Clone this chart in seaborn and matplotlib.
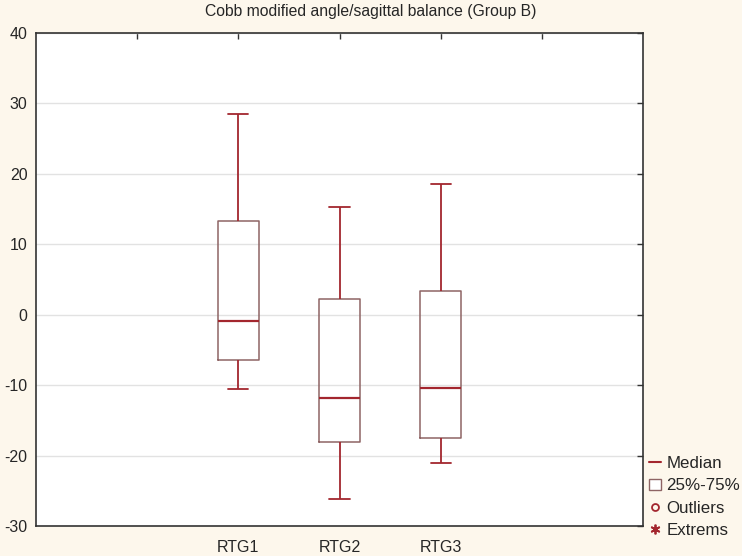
import matplotlib
matplotlib.use('Agg')
import matplotlib.pyplot as plt
from matplotlib.lines import Line2D
from matplotlib.patches import Patch
import seaborn as sns
import pandas as pd

# five-number summaries: min, Q1, median, Q3, max
groups = ['RTG1', 'RTG2', 'RTG3']
positions = [2, 3, 4]
rtg1 = [-10.5, -6.5, -0.9, 13.3, 28.5]
rtg2 = [-26.2, -18.1, -11.8, 2.3, 15.3]
rtg3 = [-21.0, -17.5, -10.4, 3.4, 18.5]
tick_labels = ['', 'RTG1', 'RTG2', 'RTG3', '']

bg = '#FDF7EC'
red = '#A3262E'
box_edge = '#8E6464'

# with 5 values per group, linear percentiles return the summary exactly
rows = []
for pos, vals in zip(positions, [rtg1, rtg2, rtg3]):
    for v in vals:
        rows.append({'pos': pos, 'value': v})
df = pd.DataFrame(rows)

sns.set_style('white')
plt.rcParams['font.family'] = ['Liberation Sans', 'DejaVu Sans']
plt.rcParams['axes.unicode_minus'] = False

fig, ax = plt.subplots(figsize=(7.42, 5.56), dpi=100)
fig.patch.set_facecolor(bg)
fig.subplots_adjust(left=0.0485, right=0.8666, top=0.9406, bottom=0.054)

sns.boxplot(data=df, x='pos', y='value', native_scale=True, whis=(0, 100),
            width=0.4, fill=False, ax=ax,
            boxprops=dict(color=box_edge, linewidth=1.1),
            medianprops=dict(color=red, linewidth=1.6),
            whiskerprops=dict(color=red, linewidth=1.3),
            capprops=dict(color=red, linewidth=1.3),
            capwidths=0.2, showfliers=False)

ax.set_xlim(0, 6)
ax.set_xticks([1, 2, 3, 4, 5])
ax.set_xticklabels(tick_labels, fontsize=11.5)
ax.set_ylim(-30, 40)
ax.set_yticks(range(-30, 41, 10))
ax.tick_params(axis='y', labelsize=11.5)
ax.tick_params(axis='both', direction='in', length=4, width=1, color='#333333',
               top=True, right=True)
ax.tick_params(axis='x', pad=10)
ax.tick_params(axis='y', pad=6)
ax.grid(axis='y', color='#E2E2E2', linewidth=1)
ax.set_axisbelow(True)
for s in ax.spines.values():
    s.set_color('#333333')
    s.set_linewidth(1.2)
ax.set_xlabel('')
ax.set_ylabel('')
fig.suptitle('Cobb modified angle/sagittal balance (Group B)', fontsize=11.3,
             x=0.5, y=0.993, va='top')

handles = [
    Line2D([], [], color=red, linewidth=1.5),
    Patch(facecolor='white', edgecolor=box_edge, linewidth=1),
    Line2D([], [], linestyle='none', marker='o', markersize=5,
           markerfacecolor='none', markeredgecolor=red, markeredgewidth=1.3),
    Line2D([], [], linestyle='none', marker=(6, 2, 0), markersize=7,
           color=red, markeredgewidth=1.3),
]
labels = ['Median', '25%-75%', 'Outliers', 'Extrems']
fig.legend(handles, labels, loc='lower left', bbox_to_anchor=(0.874, 0.033),
           frameon=False, fontsize=12.2, handlelength=0.75, handletextpad=0.3,
           labelspacing=0.42, borderpad=0, borderaxespad=0)

fig.savefig('out.png', dpi=100, facecolor=bg)
